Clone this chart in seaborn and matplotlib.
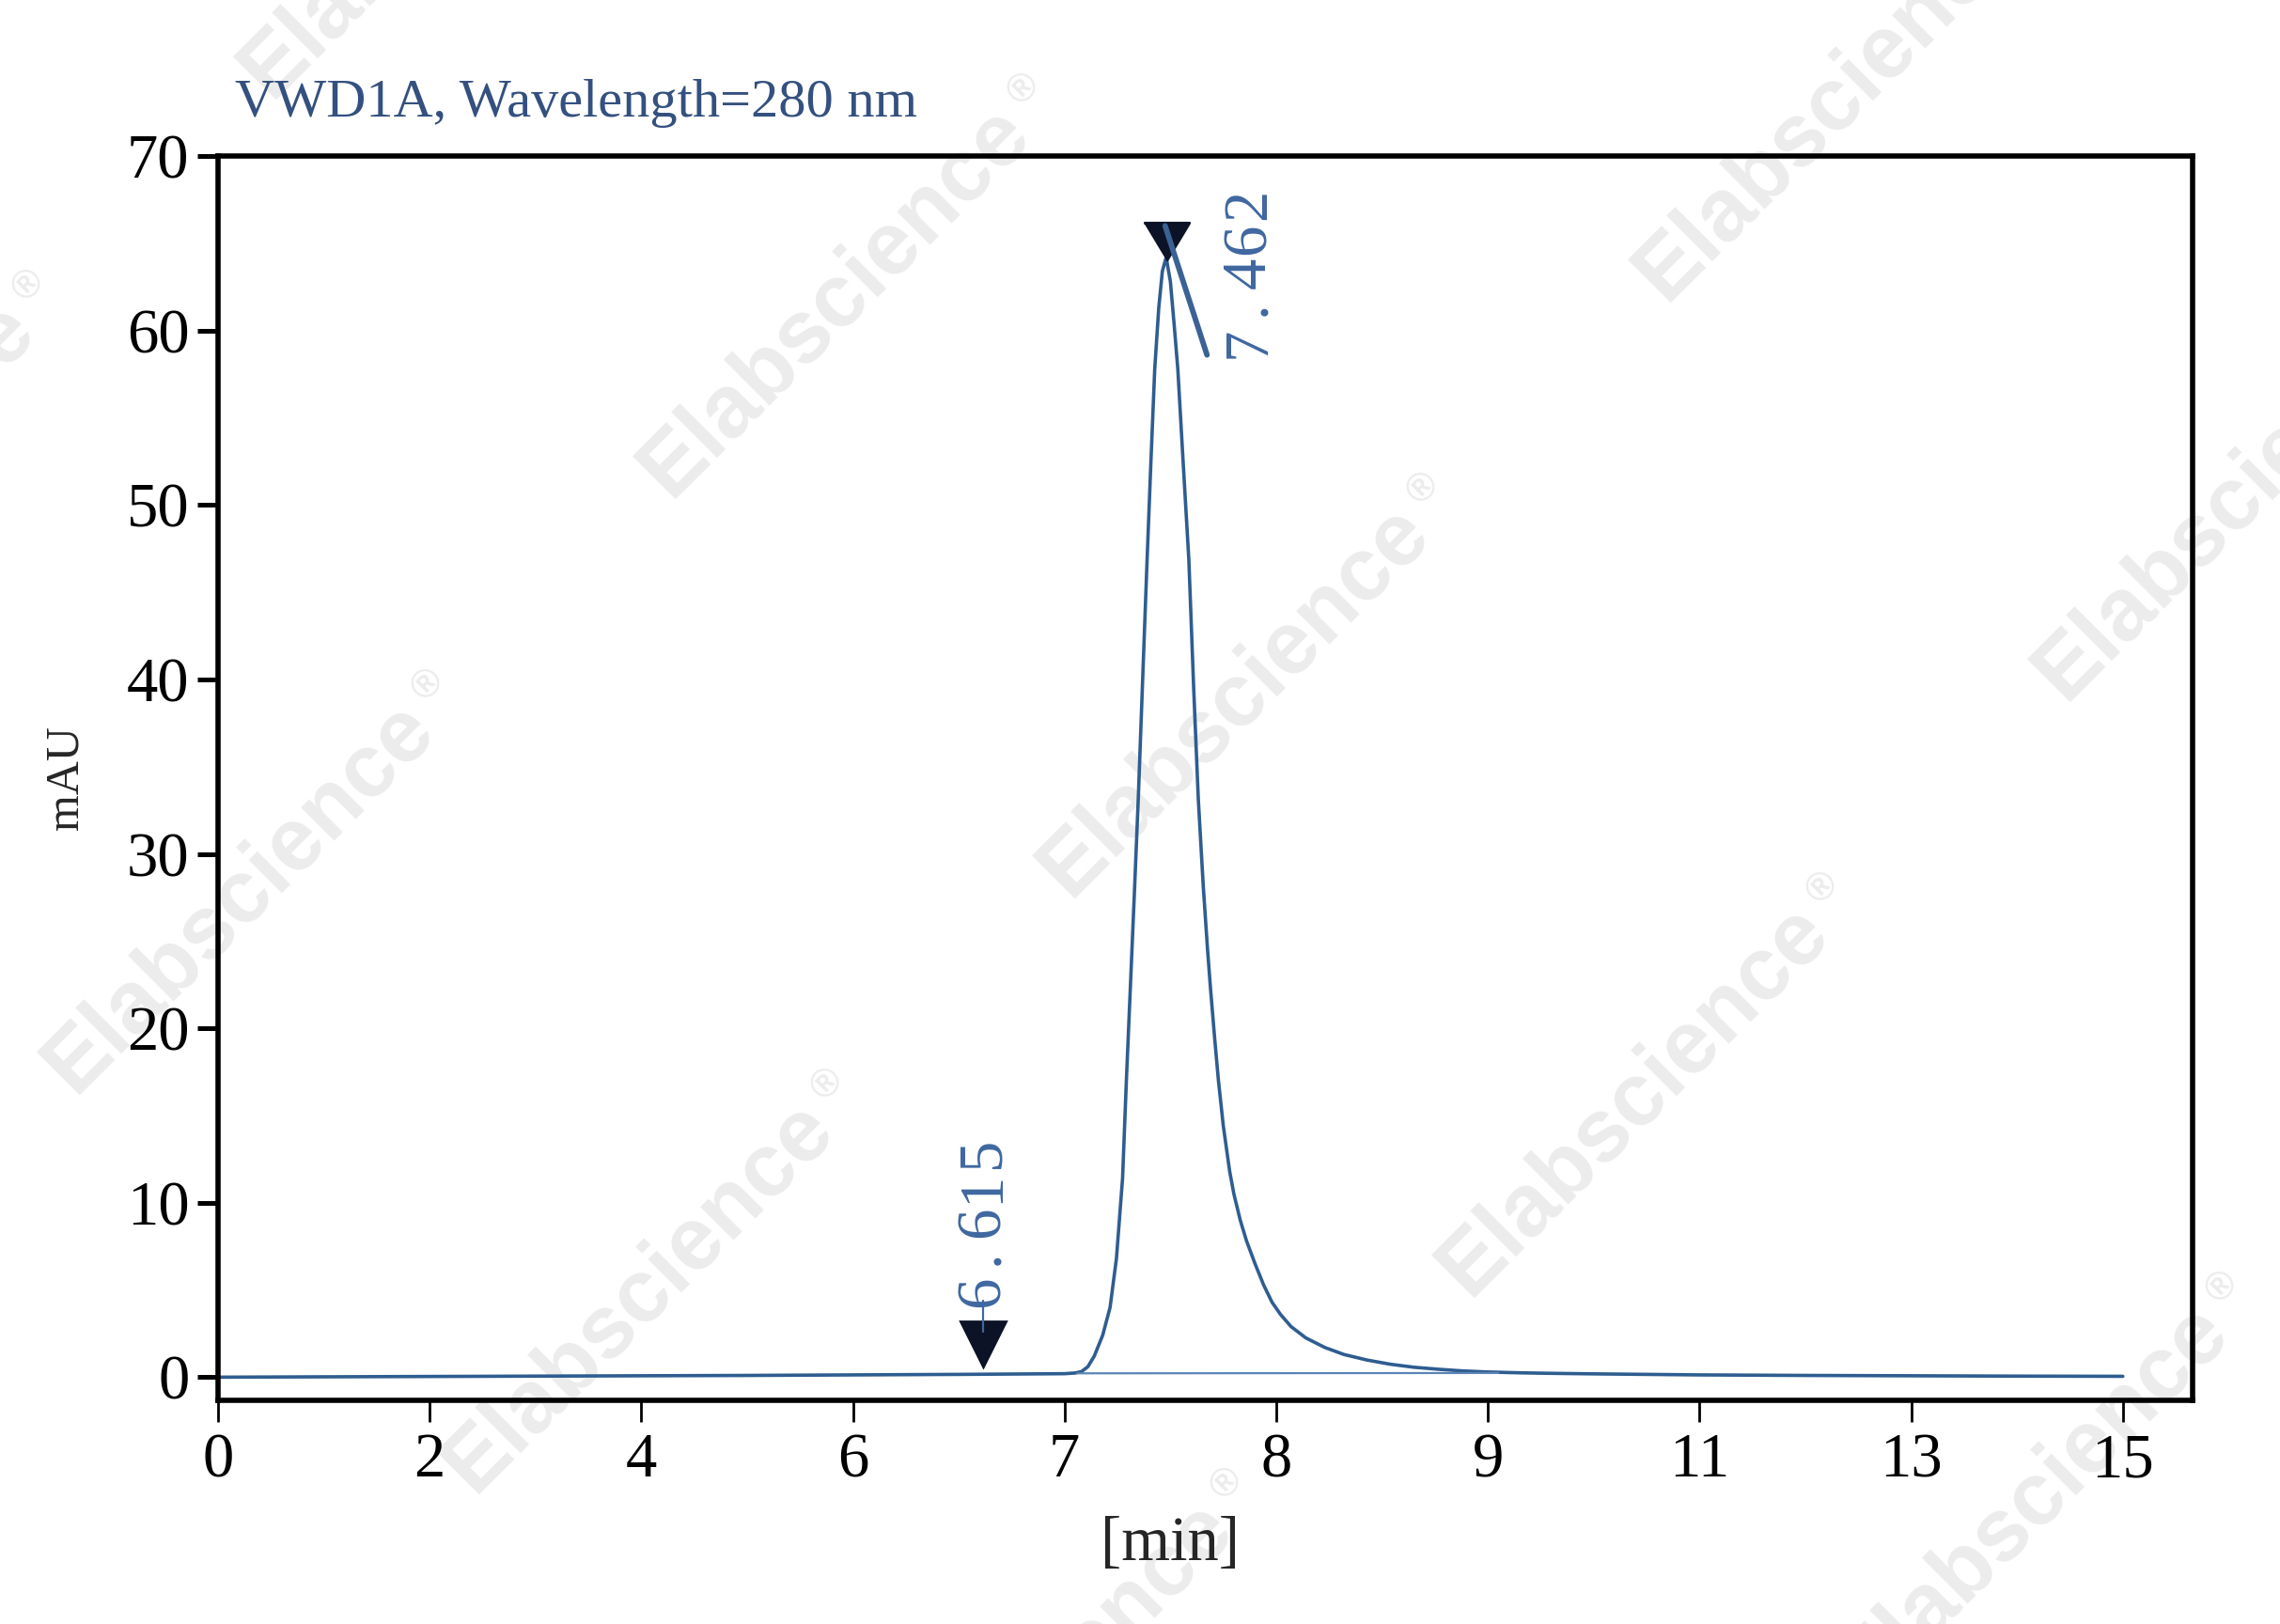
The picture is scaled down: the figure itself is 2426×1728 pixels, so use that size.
import numpy as np
import matplotlib as mpl
mpl.use('Agg')

import matplotlib.pyplot as plt
import seaborn as sns

# chromatogram trace (minutes, mAU)
time_min = [0.0, 1.0, 2.0, 3.0, 4.0, 5.0, 6.0, 6.5, 7.0, 7.05, 7.08, 7.11, 7.14,
            7.18, 7.215, 7.245, 7.274, 7.292, 7.311, 7.33, 7.348, 7.372, 7.39,
            7.408, 7.426, 7.445, 7.462, 7.48, 7.50, 7.518, 7.535, 7.56, 7.587,
            7.61, 7.632, 7.655, 7.675, 7.69, 7.71, 7.727, 7.75, 7.78, 7.80, 7.83,
            7.86, 7.90, 7.94, 7.98, 8.02, 8.07, 8.14, 8.23, 8.32, 8.43, 8.54,
            8.65, 8.77, 8.88, 8.99, 9.3, 9.6, 10.0, 10.5, 11.0, 12.0, 13.0, 14.0,
            15.0]
signal_mau = [0.0, 0.02, 0.04, 0.06, 0.08, 0.1, 0.13, 0.16, 0.2, 0.24, 0.32, 0.6,
              1.2, 2.4, 4.0, 6.8, 11.4, 17.0, 22.4, 27.8, 33.1, 41.0, 46.9, 52.5,
              57.8, 61.3, 63.4, 64.2, 62.8, 60.3, 57.8, 52.5, 46.9, 39.5, 33.1,
              28.2, 24.6, 22.2, 19.3, 17.0, 14.4, 11.8, 10.5, 9.0, 7.8, 6.5, 5.3,
              4.3, 3.6, 2.9, 2.25, 1.7, 1.3, 0.98, 0.74, 0.57, 0.45, 0.36, 0.3,
              0.25, 0.22, 0.19, 0.16, 0.13, 0.1, 0.08, 0.06, 0.05]

# integration baseline under the main peak
baseline_time = [7.06, 9.1]
baseline_mau = [0.22, 0.24]

# detected peaks (retention time label, marker height)
peak_rt = [6.615, 7.462]
peak_marker_mau = [1.9, 65.1]
peak_text = ['6.615', '7.462']

xticks = [0, 2, 4, 6, 7, 8, 9, 11, 13, 15]
yticks = [0, 10, 20, 30, 40, 50, 60, 70]

title = 'VWD1A, Wavelength=280 nm'
xlabel = '[min]'
ylabel = 'mAU'

line_color = '#2e5d90'
label_color = '#3f67a0'
marker_color = '#0c1326'


def fwd(x):
    # piecewise axis: 2 min per tick up to 6, 1 min per tick 6-9, 2 min after
    x = np.asarray(x, dtype=float)
    return np.where(x < 6, x / 2.0, np.where(x < 9, x - 3.0, 6.0 + (x - 9.0) / 2.0))


def inv(u):
    u = np.asarray(u, dtype=float)
    return np.where(u < 3, u * 2.0, np.where(u < 6, u + 3.0, 9.0 + (u - 6.0) * 2.0))


def mono_label(ax, x, y, text, adv=13.3, **kw):
    # fixed-pitch vertical label, one glyph per cell
    for k, ch in enumerate(text):
        ax.annotate(ch, xy=(x, y), xytext=(0, adv * (k + 0.5)),
                    textcoords='offset points', rotation=90,
                    ha='center', va='center', **kw)


sns.set_style('white')
plt.rcParams['font.family'] = ['Liberation Serif', 'DejaVu Serif']

fig = plt.figure(figsize=(12.13, 8.64), dpi=200)
ax = fig.add_axes([0.0956, 0.1377, 0.8661, 0.7662])
ax.set_facecolor('none')

# faint watermark grid
base = np.array([713.0, 531.0])
u = np.array([425.0, 425.0])
v = np.array([-634.0, 634.0])
W, H = 2426.0, 1728.0
for i in range(-3, 5):
    for j in range(-3, 4):
        p = base + i * u + j * v
        if p[0] < -900 or p[0] > W + 100 or p[1] < -100 or p[1] > H + 700:
            continue
        fig.text(p[0] / W, 1 - p[1] / H, 'Elabscience', rotation=45,
                 rotation_mode='anchor', ha='left', va='baseline',
                 fontsize=34, fontweight='bold', family='Liberation Sans',
                 color='#ececec', zorder=-5)
        q = p + np.array([395.0, -395.0]) + np.array([-22.0, -22.0])
        fig.text(q[0] / W, 1 - q[1] / H, '®', rotation=45,
                 rotation_mode='anchor', ha='left', va='baseline',
                 fontsize=15, fontweight='bold', family='Liberation Sans',
                 color='#ececec', zorder=-5)

sns.lineplot(x=time_min, y=signal_mau, ax=ax, color=line_color, linewidth=1.3,
             estimator=None, sort=False)
sns.lineplot(x=baseline_time, y=baseline_mau, ax=ax, color='#5a84b5',
             linewidth=0.8, estimator=None, sort=False)

ax.set_xscale('function', functions=(fwd, inv))
ax.set_xlim(0, 15.66)
ax.set_ylim(-1.33, 70)

# peak markers: first at its label time, main one on the drawn apex
apex_x = time_min[int(np.argmax(signal_mau))]
ax.plot([peak_rt[0]], [peak_marker_mau[0]], marker='v', markersize=17.5,
        color=marker_color, linestyle='none', zorder=5)
ax.plot([apex_x], [peak_marker_mau[1]], marker=[(-1, 0.83), (1, 0.83), (0, -0.83)],
        markersize=17.5, color=marker_color, linestyle='none', zorder=5)

# leader lines + rotated retention-time labels
ax.plot([peak_rt[0], peak_rt[0]], [2.6, 4.4], color=label_color, linewidth=0.8, zorder=6)
mono_label(ax, peak_rt[0], 3.9, peak_text[0], fontsize=24, color=label_color)
ax.plot([apex_x - 0.005, 7.673], [66.0, 58.6], color='#3a6294', linewidth=2.1, zorder=6)
mono_label(ax, 7.873, 58.3, peak_text[1], fontsize=24, color=label_color)

ax.set_xticks(xticks)
ax.set_xticklabels([str(t) for t in xticks])
ax.xaxis.set_minor_locator(mpl.ticker.NullLocator())
ax.set_yticks(yticks)

for s in ax.spines.values():
    s.set_visible(True)
    s.set_color('black')
    s.set_linewidth(2.0)

ax.tick_params(axis='x', bottom=True, direction='out', length=8.3, width=1.0,
               pad=4, labelsize=24, colors='black')
ax.tick_params(axis='y', left=True, direction='out', length=8, width=1.8,
               pad=3, labelsize=24, colors='black')

ax.set_xlabel(xlabel, fontsize=24, va='center')
ax.xaxis.set_label_coords(0.482, -0.1156)
ax.set_ylabel(ylabel, fontsize=18, va='center')
ax.yaxis.set_label_coords(-0.077, 0.5)

fig.text(250 / W, 1 - 124 / H, title, ha='left', va='baseline', fontsize=21,
         color='#34507f')

plt.savefig('out.png', dpi=200, facecolor='white')
plt.close()
